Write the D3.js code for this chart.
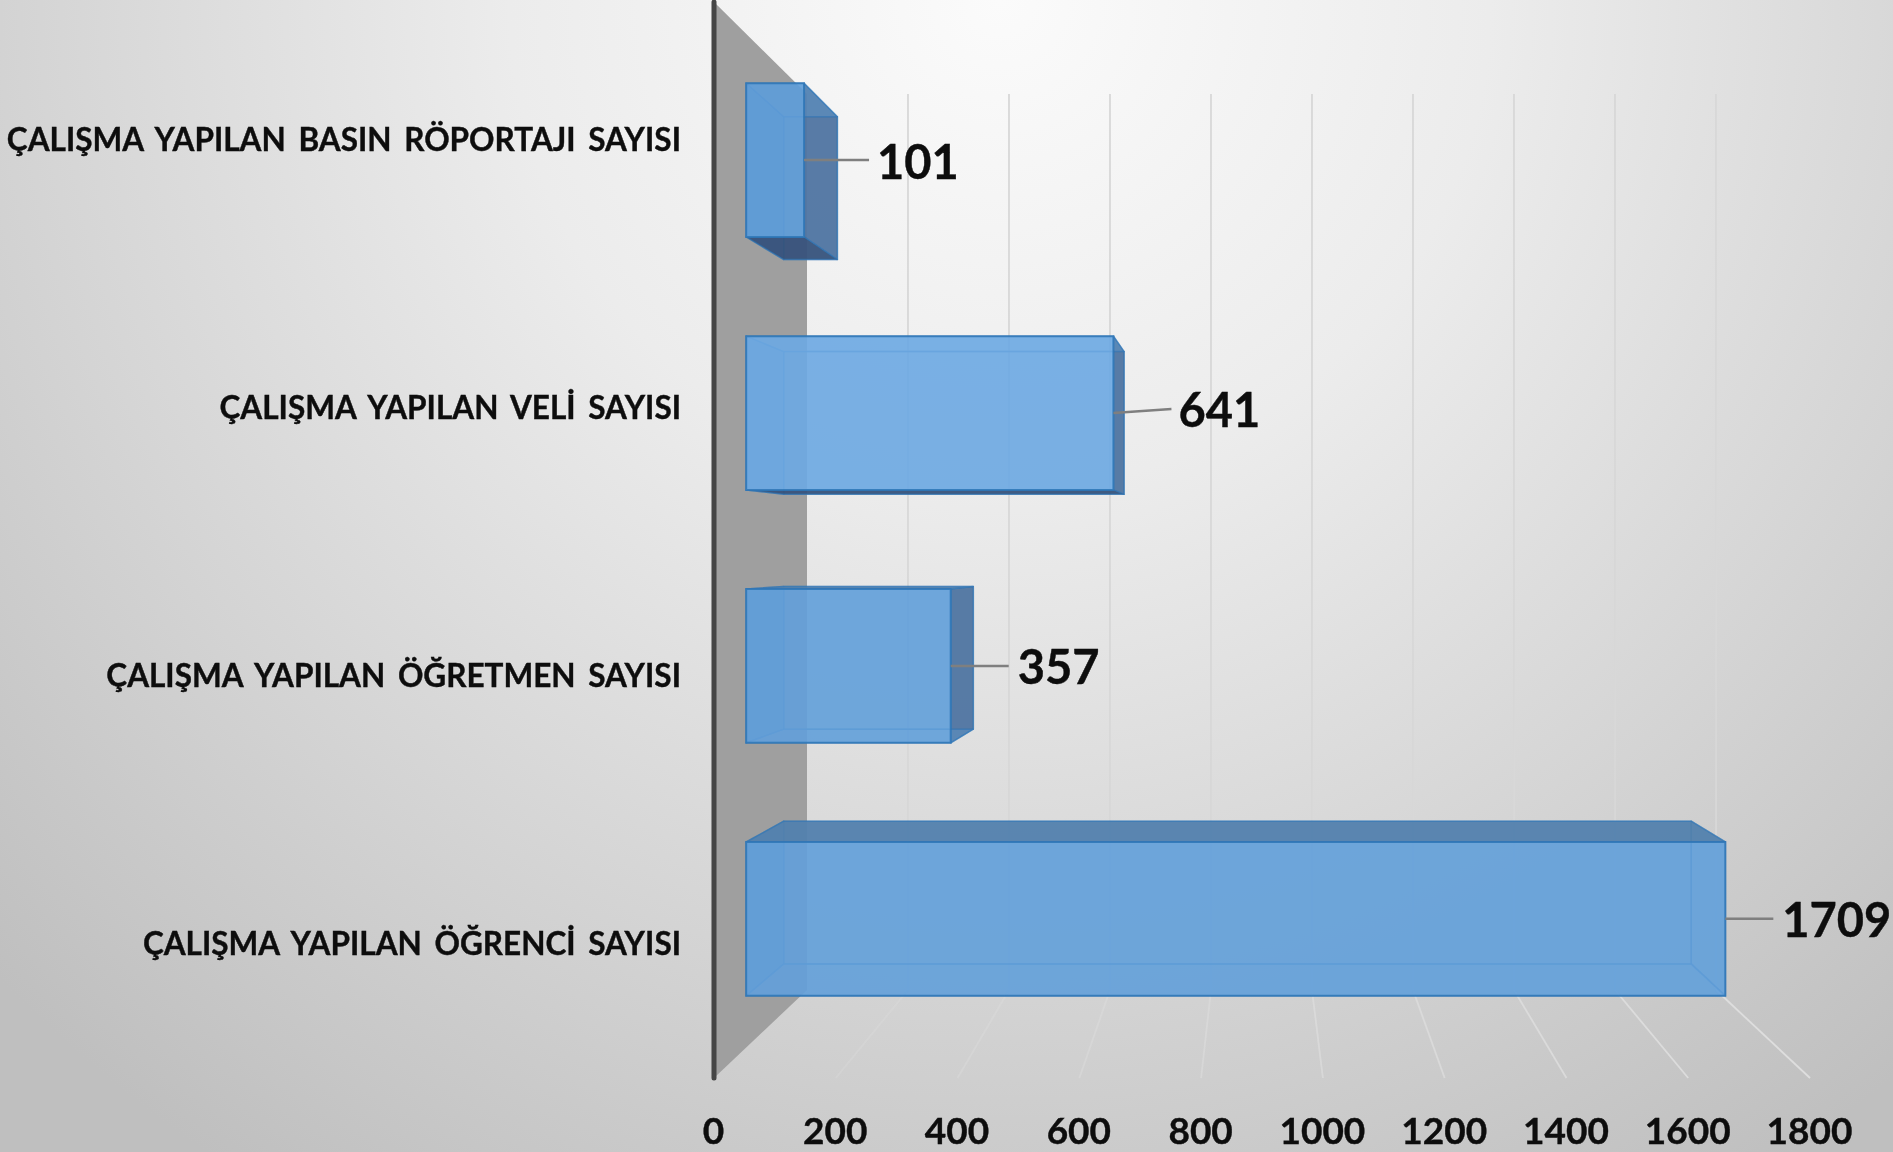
<!DOCTYPE html>
<html><head><meta charset="utf-8">
<script src="https://cdnjs.cloudflare.com/ajax/libs/d3/7.8.5/d3.min.js"></script>
<style>html,body{margin:0;padding:0;background:#ddd;overflow:hidden}svg{display:block}
text{font-family:Lato,"Open Sans",sans-serif;font-weight:700;fill:#0a0a0a;stroke:#0a0a0a;stroke-width:.35px}</style>
</head><body><svg id="c" width="1893" height="1152"></svg>
<script>
// Bottom to top, as drawn
const categories = ["ÇALIŞMA YAPILAN ÖĞRENCİ SAYISI","ÇALIŞMA YAPILAN ÖĞRETMEN SAYISI","ÇALIŞMA YAPILAN VELİ SAYISI","ÇALIŞMA YAPILAN BASIN RÖPORTAJI SAYISI"];
const values = [1709,357,641,101];
const tickValues = [0,200,400,600,800,1000,1200,1400,1600,1800];

// layout and styling, separate from the data
const W=1893,H=1152;
const DEPTH_FRONT=.346, DEPTH_BACK=.75;
const leaderDelta=[[48,0],[58,0],[58,-4],[65,0]];
const labelGap=[9,9,7,8];
const frontFill=["#63a0da","#63a0da","#6eaae4","#5f9dd9"];
const xAt=t=>d3.scaleLinear().domain([0,1800]).range([714+93*t,1810-94*t]);
const yAt=t=>d3.scaleLinear().domain([0,1]).range([1078-88*t,2+92*t]);
const band=d3.scaleBand().domain(categories).range([0,1]).paddingInner(.392).paddingOuter(.2);
const P=(v,u,t)=>[xAt(t)(v),yAt(t)(u)];
const line=d3.line(), closed=p=>line(p)+"Z";
const svg=d3.select("#c");

const defs=svg.append("defs");
const g=defs.append("radialGradient").attr("id","bg").attr("gradientUnits","userSpaceOnUse")
  .attr("cx",1000).attr("cy",0).attr("r",1400);
[[0,"#fbfbfb"],[.35,"#ececec"],[.7,"#d4d4d4"],[1,"#bfbfbf"]].forEach(([o,c])=>g.append("stop").attr("offset",o).attr("stop-color",c));
defs.append("filter").attr("id","soft").attr("x","-2%").attr("y","-2%").attr("width","104%").attr("height","104%")
  .attr("filterUnits","objectBoundingBox").append("feGaussianBlur").attr("stdDeviation",.6);
svg.append("rect").attr("width",W).attr("height",H).attr("fill","url(#bg)");

const root=svg.append("g").attr("filter","url(#soft)");
// wall
root.append("path").attr("d",closed([P(0,0,0),P(0,1,0),P(0,1,1),P(0,0,1)])).attr("fill","#9f9f9f");
// gridlines
const gridTicks=tickValues.slice(1);
const floorOpacity=d3.scaleLinear().domain([200,1800]).range([.3,1]);
root.selectAll(".gb").data(gridTicks).join("path").attr("d",v=>line([P(v,1,1),P(v,0,1)]))
  .attr("stroke","#d8d8d8").attr("stroke-width",1.8).attr("fill","none");
root.selectAll(".gf").data(gridTicks).join("path").attr("d",v=>line([P(v,0,1),P(v,0,0)]))
  .attr("stroke","#dedede").attr("stroke-opacity",floorOpacity).attr("stroke-width",1.8).attr("fill","none");
// axis line
root.append("path").attr("d",line([P(0,0,0),P(0,1,0)])).attr("stroke","#444").attr("stroke-width",5).attr("stroke-linecap","round");

// bars
const tF=DEPTH_FRONT,tB=DEPTH_BACK;
categories.forEach((c,i)=>{
  const u0=band(c)+.0012,u1=u0+band.bandwidth(),v=values[i];
  const fbl=P(0,u0,tF),ftl=P(0,u1,tF),ftr=P(v,u1,tF),fbr=P(v,u0,tF);
  const bbl=P(0,u0,tB),btl=P(0,u1,tB),btr=P(v,u1,tB),bbr=P(v,u0,tB);
  const G=root.append("g");
  const edge="#2e75b6";
  const face=(pts,fill,op)=>G.append("path").attr("d",closed(pts)).attr("fill",fill).attr("fill-opacity",op)
     .attr("stroke",edge).attr("stroke-opacity",.55).attr("stroke-width",1.5).attr("stroke-linejoin","round");
  face([bbl,btl,btr,bbr],"#5b9bd5",.35);
  face([fbl,ftl,btl,bbl],"#4f8fcc",.6);
  // outside faces are shaded dark, faces seen through the front stay light
  const rightOut=bbr[0]>fbr[0], topOut=btl[1]<ftl[1], botOut=bbl[1]>fbl[1];
  face([fbr,ftr,btr,bbr],rightOut?"#4f749f":"#5b9bd5",rightOut?.92:.35);
  face([ftl,ftr,btr,btl],topOut?"#5380ac":"#5b9bd5",topOut?.92:.35);
  face([fbl,fbr,bbr,bbl],botOut?"#35517a":"#5b9bd5",botOut?.92:.35);
  // front
  G.append("path").attr("d",closed([fbl,ftl,ftr,fbr])).attr("fill",frontFill[i]).attr("fill-opacity",.87)
    .attr("stroke",edge).attr("stroke-width",2).attr("stroke-opacity",.85);
  // leader & label
  const y=(fbr[1]+ftr[1])/2,[dx,dy]=leaderDelta[i];
  root.append("path").attr("d",line([[fbr[0],y],[fbr[0]+dx,y+dy]])).attr("stroke","#7f7f7f").attr("stroke-width",2.5).attr("fill","none");
  root.append("text").attr("x",fbr[0]+dx+labelGap[i]).attr("y",y+dy+2).attr("dy",".35em").attr("font-size",47).text(values[i]);
});

// axes
const xAxis=d3.axisBottom(xAt(0)).tickValues(tickValues).tickSize(0).tickPadding(0).tickFormat(d3.format("d"));
const ax=svg.append("g").attr("transform","translate(-1,1118)").attr("filter","url(#soft)").call(xAxis);
ax.select(".domain").remove();
ax.selectAll("text").attr("font-size",37).style("font-family","Lato").style("font-weight",700);
const yPos=d3.scalePoint().domain(categories).range([944,140]);
const yAxis=d3.axisLeft(yPos).tickSize(0).tickPadding(0);
const ay=svg.append("g").attr("transform","translate(681,0)").attr("filter","url(#soft)").call(yAxis);
ay.select(".domain").remove();
ay.selectAll("text").attr("font-size",31.5).attr("word-spacing",5).style("font-family","Lato").style("font-weight",700);
</script></body></html>
